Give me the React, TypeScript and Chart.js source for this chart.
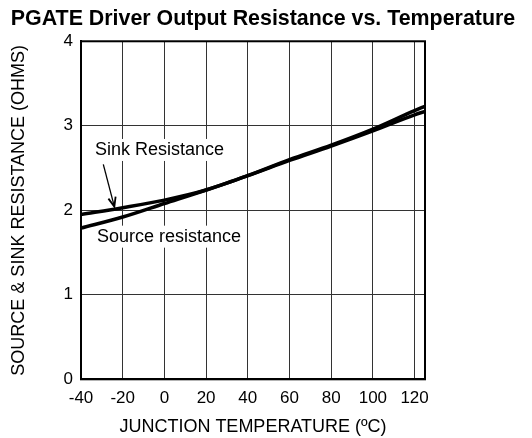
import React, { useEffect, useRef } from "react";
import { Chart, registerables } from "chart.js";

Chart.register(...registerables);

const FONT = '"Liberation Sans", Arial, Helvetica, sans-serif';

const TITLE = "PGATE Driver Output Resistance vs. Temperature";
const X_TITLE = "JUNCTION TEMPERATURE (ºC)";
const Y_TITLE = "SOURCE & SINK RESISTANCE (OHMS)";

const TEMPS = [-40, -20, 0, 20, 40, 60, 80, 100, 120, 125];
const SINK = [1.95, 2.03, 2.12, 2.24, 2.41, 2.59, 2.76, 2.94, 3.13, 3.17];
const SOURCE = [1.79, 1.92, 2.08, 2.24, 2.41, 2.6, 2.77, 2.96, 3.18, 3.23];

const X_TICKS = [-40, -20, 0, 20, 40, 60, 80, 100, 120];
const Y_TICKS = [0, 1, 2, 3, 4];

const LABEL_TEXTS = ["Sink Resistance", "Source resistance"];
const LABEL_X = [-33.3, -32.3];
const LABEL_Y = [2.714, 1.688];

const ARROW_FROM = [-29.3, 2.544];
const ARROW_TO = [-24.0, 2.043];

const annotationPlugin = {
  id: "annotations",
  beforeDatasetsDraw(chart: any) {
    const { ctx, scales } = chart;
    const xs = scales.x;
    const ys = scales.y;
    ctx.save();
    ctx.font = `18px ${FONT}`;
    ctx.textBaseline = "middle";
    ctx.textAlign = "left";
    LABEL_TEXTS.forEach((t, i) => {
      const px = xs.getPixelForValue(LABEL_X[i]);
      const py = ys.getPixelForValue(LABEL_Y[i]);
      const w = ctx.measureText(t).width;
      ctx.fillStyle = "#fff";
      ctx.fillRect(px - 2, py - 11, w + 3, 22);
      ctx.fillStyle = "#000";
      ctx.fillText(t, px, py);
    });
    const x1 = xs.getPixelForValue(ARROW_FROM[0]);
    const y1 = ys.getPixelForValue(ARROW_FROM[1]);
    const x2 = xs.getPixelForValue(ARROW_TO[0]);
    const y2 = ys.getPixelForValue(ARROW_TO[1]);
    ctx.strokeStyle = "#000";
    ctx.lineWidth = 1.3;
    ctx.beginPath();
    ctx.moveTo(x1, y1);
    ctx.lineTo(x2, y2);
    ctx.stroke();
    const ang = Math.atan2(y2 - y1, x2 - x1);
    const hl = 10;
    const spread = 0.38;
    ctx.lineWidth = 1.8;
    ctx.beginPath();
    ctx.moveTo(x2 - hl * Math.cos(ang - spread), y2 - hl * Math.sin(ang - spread));
    ctx.lineTo(x2, y2);
    ctx.lineTo(x2 - hl * Math.cos(ang + spread), y2 - hl * Math.sin(ang + spread));
    ctx.stroke();
    ctx.restore();
  },
  afterDatasetsDraw(chart: any) {
    const { ctx, chartArea } = chart;
    ctx.save();
    ctx.strokeStyle = "#000";
    ctx.lineWidth = 2;
    ctx.strokeRect(chartArea.left, chartArea.top, chartArea.right - chartArea.left, chartArea.bottom - chartArea.top);
    ctx.restore();
  },
};

export default function App() {
  const ref = useRef<HTMLCanvasElement>(null);
  useEffect(() => {
    if (!ref.current) return;
    const chart = new Chart(ref.current, {
      type: "line",
      data: {
        datasets: [
          {
            label: "Sink Resistance",
            data: TEMPS.map((t, i) => ({ x: t, y: SINK[i] })),
            borderColor: "#000",
            borderWidth: 3.5,
            pointRadius: 0,
            fill: false,
            cubicInterpolationMode: "monotone",
          },
          {
            label: "Source resistance",
            data: TEMPS.map((t, i) => ({ x: t, y: SOURCE[i] })),
            borderColor: "#000",
            borderWidth: 3.5,
            pointRadius: 0,
            fill: false,
            cubicInterpolationMode: "monotone",
          },
        ],
      },
      options: {
        animation: false,
        responsive: false,
        devicePixelRatio: 1,
        layout: { padding: { left: 0, right: 6, top: 0, bottom: 0 } },
        plugins: {
          legend: { display: false },
          tooltip: { enabled: false },
          title: {
            display: true,
            text: TITLE,
            color: "#000",
            font: { family: FONT, size: 21.4, weight: "bold" },
            padding: { top: 6, bottom: 9.6 },
          },
        },
        scales: {
          x: {
            type: "linear",
            min: -40,
            max: 125,
            afterBuildTicks: (s: any) => {
              s.ticks = X_TICKS.map((v) => ({ value: v }));
            },
            afterFit: (s: any) => {
              s.height = 58.7;
            },
            grid: { color: "#333", lineWidth: 1, drawTicks: false },
            border: { display: true, color: "#000", width: 2 },
            ticks: {
              color: "#000",
              font: { family: FONT, size: 17 },
              padding: 9,
              maxRotation: 0,
              autoSkip: false,
            },
            title: {
              display: true,
              text: X_TITLE,
              color: "#000",
              font: { family: FONT, size: 18 },
              padding: { top: 0, bottom: 0 },
            },
          },
          y: {
            type: "linear",
            min: 0,
            max: 4,
            afterBuildTicks: (s: any) => {
              s.ticks = Y_TICKS.map((v) => ({ value: v }));
            },
            afterFit: (s: any) => {
              s.width = 81;
            },
            grid: { color: "#333", lineWidth: 1, drawTicks: false },
            border: { display: true, color: "#000", width: 2 },
            ticks: {
              color: "#000",
              font: { family: FONT, size: 17 },
              padding: 8,
            },
            title: {
              display: true,
              text: Y_TITLE,
              color: "#000",
              font: { family: FONT, size: 18 },
              padding: { top: 8, bottom: 0 },
            },
          },
          yR: {
            type: "linear",
            position: "right",
            display: true,
            grid: { display: false, drawTicks: false },
            border: { display: false },
            ticks: { display: false },
            afterFit: (s: any) => {
              s.width = 101;
            },
          },
        },
      },
      plugins: [annotationPlugin],
    } as any);
    return () => chart.destroy();
  }, []);
  return (
    <div style={{ position: "absolute", left: 0, top: 0, width: 532, height: 438, background: "#fff" }}>
      <canvas ref={ref} width={532} height={438} style={{ display: "block", width: 532, height: 438 }} />
    </div>
  );
}
